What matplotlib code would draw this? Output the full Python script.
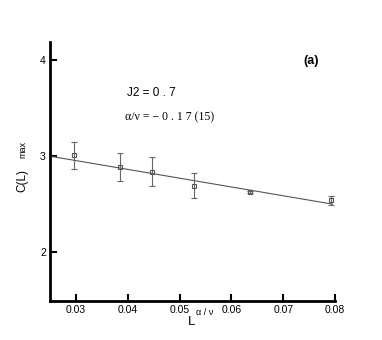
import matplotlib
matplotlib.use("Agg")
import matplotlib.pyplot as plt

plt.rcParams["font.family"] = ["Liberation Sans", "DejaVu Sans"]

# data
l_vals = [0.0297, 0.0385, 0.0447, 0.0527, 0.0636, 0.0792]
c_max = [3.01, 2.885, 2.84, 2.69, 2.625, 2.54]
c_err = [0.14, 0.145, 0.155, 0.13, 0.01, 0.045]
fit_x = [0.025, 0.0795]
fit_y = [3.0, 2.5]
x_ticks = [0.03, 0.04, 0.05, 0.06, 0.07, 0.08]
y_ticks = [2, 3, 4]

fig = plt.figure(figsize=(3.82, 3.40), dpi=100)
ax = fig.add_axes([0.131, 0.115, 0.746, 0.761])

ax.plot(fit_x, fit_y, color="#555555", lw=0.8)
ax.errorbar(l_vals, c_max, yerr=c_err, fmt="s", ms=3, mfc="none", mec="#555555",
            mew=0.8, ecolor="#666666", elinewidth=0.8, capsize=2, capthick=0.8)

ax.set_xlim(0.025, 0.08)
ax.set_ylim(1.49, 4.19)
ax.set_xticks(x_ticks)
ax.set_xticklabels([f"{t:.2f}" for t in x_ticks])
ax.set_yticks(y_ticks)
ax.tick_params(direction="in", length=5, width=1.5, labelsize=7.5, pad=3)
for s in ["top", "right"]:
    ax.spines[s].set_visible(False)
for s in ["left", "bottom"]:
    ax.spines[s].set_linewidth(2)

# axis titles placed by hand to follow the original layout
fig.text(0.492, 0.045, "L", fontsize=9.5, ha="left", va="baseline")
fig.text(0.514, 0.073, "\u03b1 / \u03bd", fontsize=6.5, ha="left", va="baseline")
fig.text(0.058, 0.470, "C(L)", fontsize=8.5, rotation=90, ha="center", va="center")
fig.text(0.060, 0.560, "max", fontsize=6.5, rotation=90, ha="center", va="center")

fig.text(0.793, 0.822, "(a)", fontsize=9, fontweight="bold", ha="left", va="center")
fig.text(0.332, 0.727, "J2 = 0 . 7", fontsize=8.5, ha="left", va="center")
fig.text(0.327, 0.656, "\u03b1/\u03bd = \u2212 0 . 1 7 (15)", fontsize=8.5,
         family=["Liberation Serif", "DejaVu Serif"], ha="left", va="center")

fig.savefig("out.png", dpi=100)
